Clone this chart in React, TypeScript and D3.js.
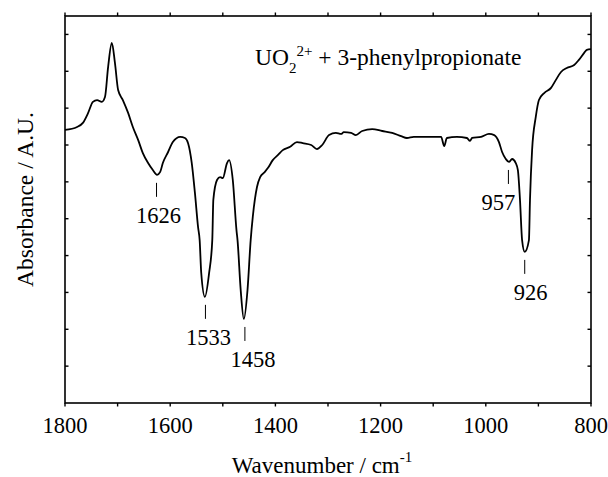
import React from "react";
import * as d3 from "d3";

// Spectrum: wavenumber (cm-1) and absorbance (a.u.)
const wavenumbers = [
  1800, 1777, 1766, 1756, 1747, 1739, 1730, 1724, 1718, 1711, 1705, 1699, 1690, 1680, 1671, 1661,
  1652, 1642, 1633, 1625, 1619, 1614, 1604, 1595, 1581, 1572, 1566, 1559, 1553, 1547, 1544, 1541,
  1534, 1526, 1520, 1518, 1511, 1505, 1500, 1492, 1488, 1481, 1474, 1472, 1466, 1460, 1453, 1447,
  1443, 1435, 1429, 1420, 1414, 1405, 1395, 1386, 1372, 1359, 1348, 1332, 1321, 1311, 1298, 1285,
  1275, 1270, 1256, 1247, 1235, 1216, 1197, 1178, 1161, 1150, 1137, 1117, 1098, 1085, 1079, 1074,
  1055, 1036, 1030, 1026, 1009, 994, 984, 975, 969, 962, 956, 950, 943, 939, 935, 931, 926, 918,
  916, 912, 905, 899, 889, 876, 867, 857, 846, 832, 823, 813, 808, 800,
];
const absorbance = [
  7.41, 7.49, 7.6, 7.87, 8.17, 8.22, 8.17, 8.3, 9.12, 9.77, 9.22, 8.49, 8.22, 7.87, 7.49, 7.14,
  6.78, 6.51, 6.32, 6.19, 6.27, 6.51, 6.81, 7.08, 7.22, 7.19, 7.05, 6.51, 5.7, 4.77, 4.42, 3.53,
  2.88, 3.53, 4.42, 5.51, 6.05, 6.13, 6.1, 6.51, 6.59, 6.05, 4.69, 4.42, 3.07, 2.28, 3.07, 4.42,
  5.05, 5.86, 6.13, 6.27, 6.38, 6.59, 6.73, 6.86, 6.95, 7.08, 7.05, 7.0, 6.89, 7.0, 7.27, 7.33,
  7.3, 7.35, 7.33, 7.27, 7.38, 7.43, 7.38, 7.33, 7.24, 7.19, 7.22, 7.22, 7.22, 7.22, 6.97, 7.19,
  7.22, 7.19, 7.11, 7.19, 7.22, 7.3, 7.27, 7.08, 6.81, 6.62, 6.54, 6.62, 6.51, 6.32, 5.51, 4.42, 4.1, 4.42,
  5.51, 6.86, 7.76, 8.22, 8.41, 8.55, 8.76, 8.98, 9.09, 9.17, 9.31, 9.5, 9.58, 9.6,
];

// Peak annotations
const peakLabels = ["1626", "1533", "1458", "957", "926"];
const peakPositions = [1626, 1533, 1458, 957, 926];
const peakValues = [6.19, 2.88, 2.28, 6.54, 4.1];
const peakTextDx = [2, 3, 8, -10, 6];

const xTickValues = [1800, 1600, 1400, 1200, 1000, 800];
const xMinorTicks = [1700, 1500, 1300, 1100, 900];
const yTickValues = [1, 2, 3, 4, 5, 6, 7, 8, 9, 10];

const xTitle = "Wavenumber / cm";
const yTitle = "Absorbance / A.U.";

export default function App() {
  const width = 608;
  const height = 477;
  const m = { left: 65, right: 17, top: 16, bottom: 74 };
  const x = d3.scaleLinear().domain([1800, 800]).range([m.left, width - m.right]);
  const y = d3.scaleLinear().domain([0, 10.5]).range([height - m.bottom, m.top]);
  const data = wavenumbers.map((w, i) => [w, absorbance[i]] as [number, number]);
  const line = d3
    .line<[number, number]>()
    .x((d) => x(d[0]))
    .y((d) => y(d[1]))
    .curve(d3.curveMonotoneX);
  const font = '"Liberation Serif", "DejaVu Serif", serif';
  const ts: React.CSSProperties = { fontFamily: font };
  const x0 = x(1800);
  const x1 = x(800);
  const yb = y(0);
  const yt = y(10.5);
  const tl = 3.5;

  return (
    <svg
      width={width}
      height={height}
      style={{ position: "absolute", left: 0, top: 0, background: "#fff" }}
    >
      <rect x={0} y={0} width={width} height={height} fill="#fff" />
      {/* frame */}
      <rect x={x0} y={yt} width={x1 - x0} height={yb - yt} fill="none" stroke="#000" strokeWidth={1.6} />
      {/* x ticks */}
      {xTickValues.concat(xMinorTicks).map((t) => (
        <g key={"xt" + t}>
          <line x1={x(t)} x2={x(t)} y1={yb} y2={yb + tl} stroke="#000" strokeWidth={1.4} />
          <line x1={x(t)} x2={x(t)} y1={yt} y2={yt - tl} stroke="#000" strokeWidth={1.4} />
        </g>
      ))}
      {xTickValues.map((t) => (
        <text key={"xl" + t} x={x(t)} y={433} fontSize={22.5} textAnchor="middle" fill="#000" style={ts}>
          {t}
        </text>
      ))}
      {/* y ticks */}
      {yTickValues.map((t) => (
        <g key={"yt" + t}>
          <line x1={x0} x2={x0 + tl} y1={y(t)} y2={y(t)} stroke="#000" strokeWidth={1.4} />
          <line x1={x1} x2={x1 - tl} y1={y(t)} y2={y(t)} stroke="#000" strokeWidth={1.4} />
        </g>
      ))}
      {/* spectrum */}
      <path d={line(data) || ""} fill="none" stroke="#000" strokeWidth={1.8} strokeLinejoin="round" />
      {/* peak labels */}
      {peakLabels.map((lab, i) => {
        const px = x(peakPositions[i]);
        const py = y(peakValues[i]);
        return (
          <g key={"pk" + lab}>
            <line x1={px} x2={px} y1={py + 8} y2={py + 22} stroke="#000" strokeWidth={1} />
            <text x={px + peakTextDx[i]} y={py + 48} fontSize={22.5} textAnchor="middle" fill="#000" style={ts}>
              {lab}
            </text>
          </g>
        );
      })}
      {/* annotation */}
      <text x={255} y={65} fontSize={23.5} fill="#000" style={ts}>
        UO
        <tspan fontSize={15} dy={8}>2</tspan>
        <tspan fontSize={15} dy={-17}>2+</tspan>
        <tspan dy={9}> + 3-phenylpropionate</tspan>
      </text>
      {/* axis titles */}
      <text x={(x0 + x1) / 2 - 6} y={473} fontSize={23} textAnchor="middle" fill="#000" style={ts}>
        {xTitle}
        <tspan fontSize={15} dy={-11}>-1</tspan>
      </text>
      <text
        transform={`translate(33, ${(yt + yb) / 2 - 10}) rotate(-90)`}
        fontSize={23.5}
        textAnchor="middle"
        fill="#000"
        style={ts}
      >
        {yTitle}
      </text>
    </svg>
  );
}
